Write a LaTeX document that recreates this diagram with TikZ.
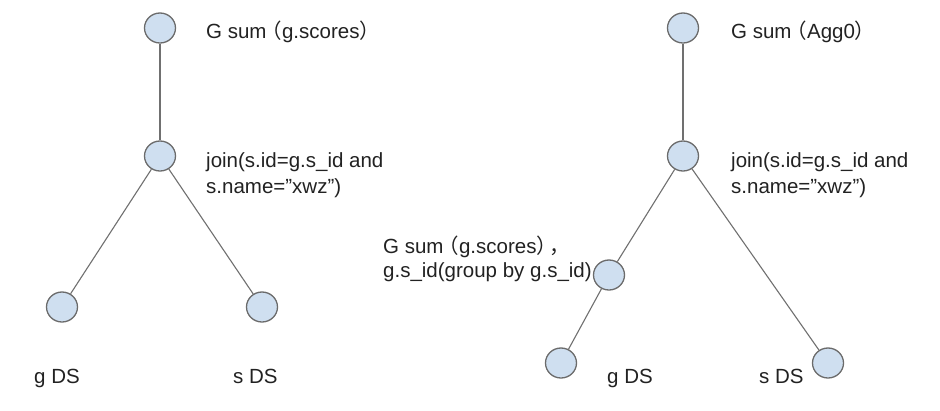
\documentclass[tikz,border=0pt]{standalone}
\usepackage{fontspec}
\setmainfont{Liberation Sans}
\newfontfamily\cjk{Noto Sans CJK SC}
\usetikzlibrary{shapes.geometric}
\definecolor{nodefill}{HTML}{CFDFF0}
\definecolor{nodeline}{HTML}{6B6B6B}
\definecolor{edgecol}{HTML}{707070}
\definecolor{txt}{HTML}{222222}
\tikzset{
  opnode/.style={ellipse, draw=nodeline, fill=nodefill, line width=1.3pt, minimum width=31pt, minimum height=30pt, inner sep=0pt},
  edge/.style={draw=edgecol, line width=1.1pt},
  lbl/.style={anchor=base west, inner sep=0pt, text=txt, font=\fontsize{20.5}{24}\selectfont}
}
\newcommand{\lp}{\hspace{-5pt}{\cjk （}}
\newcommand{\rp}{{\cjk ）}}
\newcommand{\cm}{\hspace{-8pt}{\cjk ，}}
\begin{document}
\begin{tikzpicture}[x=1pt,y=-1pt]
\useasboundingbox[fill=white] (0,0) rectangle (940,410);
% left tree
\node[opnode] (lt) at (160,28) {};
\node[opnode] (lj) at (160,156) {};
\node[opnode] (lg) at (62,307) {};
\node[opnode] (ls) at (262,307) {};
\draw[edge] (lt) -- (lj);
\draw[edge] (lj) -- (lg);
\draw[edge] (lj) -- (ls);
\node[lbl] (ltl) at (206,38) {G sum\lp g.scores\rp};
\node[lbl] (ljl1) at (206,167) {join(s.id=g.s\_id and};
\node[lbl] (ljl2) at (206,193) {s.name=”xwz”)};
\node[lbl] (lgl) at (34,383) {g DS};
\node[lbl] (lsl) at (233,383) {s DS};
% right tree
\node[opnode] (rt) at (683,28) {};
\node[opnode] (rj) at (683,156) {};
\node[opnode] (rm) at (609,275) {};
\node[opnode] (rg) at (561,363) {};
\node[opnode] (rs) at (828,363) {};
\draw[edge] (rt) -- (rj);
\draw[edge] (rj) -- (rm);
\draw[edge] (rm) -- (rg);
\draw[edge] (rj) -- (rs);
\node[lbl] (rtl) at (731,38) {G sum\lp Agg0\rp};
\node[lbl] (rjl1) at (731,167) {join(s.id=g.s\_id and};
\node[lbl] (rjl2) at (731,193) {s.name=”xwz”)};
\node[lbl] (rml1) at (383,253) {G sum\lp g.scores\rp\cm};
\node[lbl] (rml2) at (383,277) {g.s\_id(group by g.s\_id)};
\node[lbl] (rgl) at (607,383) {g DS};
\node[lbl] (rsl) at (759,383) {s DS};
\end{tikzpicture}
\end{document}
